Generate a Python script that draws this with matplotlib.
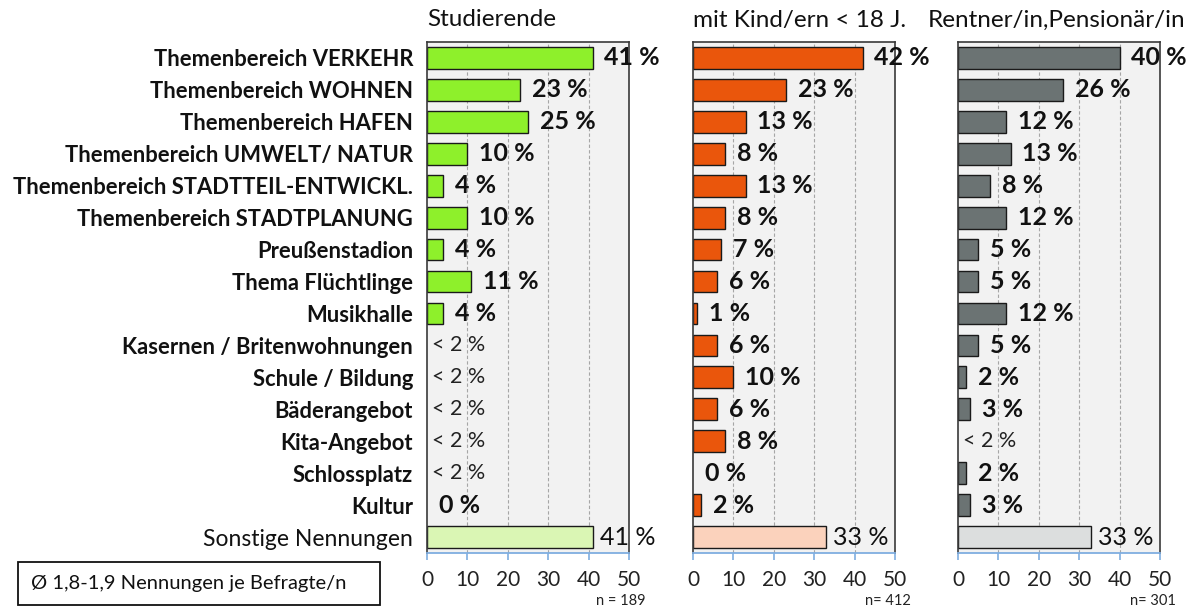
import matplotlib
matplotlib.use("Agg")
import matplotlib.pyplot as plt
from matplotlib.patches import Rectangle

plt.rcParams['font.family'] = ['Lato', 'DejaVu Sans']

categories = [
    "Themenbereich VERKEHR", "Themenbereich WOHNEN", "Themenbereich HAFEN",
    "Themenbereich UMWELT/ NATUR", "Themenbereich STADTTEIL-ENTWICKL.",
    "Themenbereich STADTPLANUNG", "Preußenstadion", "Thema Flüchtlinge",
    "Musikhalle", "Kasernen / Britenwohnungen", "Schule / Bildung",
    "Bäderangebot", "Kita-Angebot", "Schlossplatz", "Kultur",
    "Sonstige Nennungen",
]
# None = "< 2 %"
studierende = [41, 23, 25, 10, 4, 10, 4, 11, 4, None, None, None, None, None, 0, 41]
kinder = [42, 23, 13, 8, 13, 8, 7, 6, 1, 6, 10, 6, 8, 0, 2, 33]
rentner = [40, 26, 12, 13, 8, 12, 5, 5, 12, 5, 2, 3, None, 2, 3, 33]

titles = ["Studierende", "mit Kind/ern < 18 J.", "Rentner/in,Pensionär/in"]
n_labels = ["n = 189", "n= 412", "n= 301"]
colors = ["#8EF02B", "#EA560C", "#6B7373"]
light_colors = ["#DAF6B4", "#FBD2BC", "#DCDEDE"]
xticks = [0, 10, 20, 30, 40, 50]
note = "Ø 1,8-1,9 Nennungen je Befragte/n"

W, H = 1195, 609
fig = plt.figure(figsize=(W / 100, H / 100), dpi=100)

panel_left = [427, 693, 958]
panel_width = 202
top_px, bottom_px = 42, 553
title_x = [427, 693, 928]

for k, (vals, col, lcol) in enumerate(zip([studierende, kinder, rentner], colors, light_colors)):
    ax = fig.add_axes([panel_left[k] / W, 1 - bottom_px / H, panel_width / W, (bottom_px - top_px) / H])
    ax.set_facecolor("#F2F2F2")
    ax.set_xlim(0, 50)
    ax.set_ylim(len(categories) - 0.5, -0.5)
    for g in [10, 20, 30, 40]:
        ax.axvline(g, color="#A6A6A6", lw=0.8, ls=(0, (3, 2)), zorder=0)
    n = len(categories)
    for i, v in enumerate(vals):
        last = (i == n - 1)
        if v is None:
            ax.annotate("< 2 %", (0, i), xytext=(3.5, 0), textcoords="offset points",
                        ha="left", va="center", fontsize=15.5, color="#222222")
            continue
        if v > 0:
            ax.barh(i, v, height=0.68, color=lcol if last else col,
                    edgecolor="#1a1a1a", linewidth=1.0, zorder=2)
        ax.annotate(f"{v} %", (v, i), xytext=(5 if last else 8.5, 0), textcoords="offset points",
                    ha="left", va="center", fontsize=18,
                    fontweight="normal" if last else "bold", color="#111111",
                    annotation_clip=False, zorder=5)
    for s in ["left", "top", "right"]:
        ax.spines[s].set_color("#3a3a3a")
        ax.spines[s].set_linewidth(1.2)
    ax.spines["bottom"].set_color("#7FAEE0")
    ax.spines["bottom"].set_linewidth(1.3)
    ax.set_xticks(xticks)
    ax.set_xticklabels([str(t) for t in xticks])
    ax.tick_params(axis="x", colors="#7FAEE0", length=5, width=1.2, pad=7,
                   labelsize=15, labelcolor="#222222")
    if k == 0:
        ax.set_yticks(range(n))
        ax.set_yticklabels(categories)
        ax.tick_params(axis="y", length=0, pad=10, labelsize=15.8)
        for j, lab in enumerate(ax.get_yticklabels()):
            lab.set_fontweight("normal" if j == n - 1 else "bold")
            lab.set_color("#111111")
            if j == n - 1:
                lab.set_fontsize(16.5)
    else:
        ax.set_yticks([])
    fig.text(title_x[k] / W, 1 - 20 / H, titles[k], ha="left", va="center",
             fontsize=17.5, color="#111111")
    fig.text((panel_left[k] + panel_width + 16) / W, 1 - 601 / H, n_labels[k],
             ha="right", va="center", fontsize=10.5, color="#222222")

fig.patches.append(Rectangle((18 / W, 1 - 605 / H), (380 - 18) / W, (605 - 562) / H,
                             transform=fig.transFigure, fill=False,
                             edgecolor="#111111", linewidth=1.3))
fig.text(31 / W, 1 - 584 / H, note, ha="left", va="center", fontsize=14.5, color="#111111")

fig.savefig("out.png", dpi=100)
